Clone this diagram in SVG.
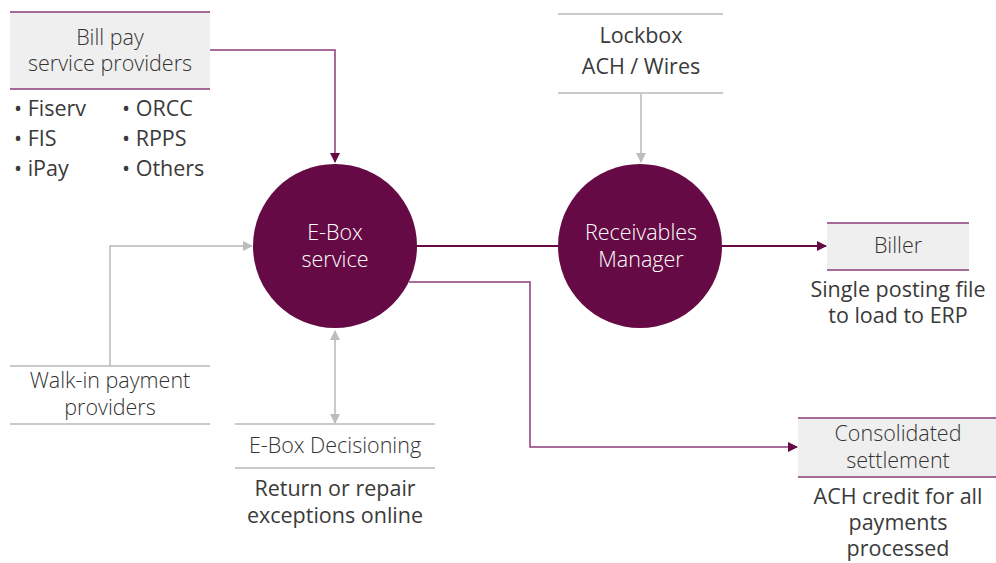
<svg xmlns="http://www.w3.org/2000/svg" width="996" height="563" viewBox="0 0 996 563">
<style>
  text { font-family: "Open Sans", "Liberation Sans", sans-serif; fill: #3a3a3a; text-anchor: middle; }
  .lt { font-weight: 300; font-size: 21.5px; fill: #333333; }
  .md { font-weight: 500; font-size: 21.5px; }
  .wt { font-weight: 300; font-size: 21.5px; fill: #ffffff; }
  .bl { text-anchor: start; }
  .box { fill: #efefef; }
  .pl { stroke: #8a3c78; stroke-width: 1.5; fill: none; }
  .gl { stroke: #b8b8b8; stroke-width: 1.5; fill: none; }
  .circ { fill: #650a45; }
</style>
<defs>
  <marker id="ap" markerWidth="10" markerHeight="10" refX="9" refY="5" orient="auto" markerUnits="userSpaceOnUse">
    <path d="M0,0 L10,5 L0,10 Z" fill="#650a45"/>
  </marker>
  <marker id="ag" markerWidth="10" markerHeight="10" refX="9" refY="5" orient="auto-start-reverse" markerUnits="userSpaceOnUse">
    <path d="M0,0 L10,5 L0,10 Z" fill="#bdbdbd"/>
  </marker>
</defs>

<g id="connectors">
  <path class="pl" d="M210,50 H335 V162" marker-end="url(#ap)"/>
  <path class="gl" d="M641,94 V162" marker-end="url(#ag)"/>
  <path class="gl" d="M110,366 V246 H252" marker-end="url(#ag)"/>
  <path class="gl" d="M335,331 V423" marker-start="url(#ag)" marker-end="url(#ag)"/>
  <path d="M417,246 H559" stroke="#650a45" stroke-width="2" fill="none"/>
  <path d="M722,246 H826" stroke="#650a45" stroke-width="2" fill="none" marker-end="url(#ap)"/>
  <path class="pl" d="M409,282 H530 V447 H797" marker-end="url(#ap)"/>
</g>

<g id="billpay">
  <rect class="box" x="10" y="12" width="200" height="77"/>
  <line class="pl" x1="10" y1="12" x2="210" y2="12"/>
  <line class="pl" x1="10" y1="89" x2="210" y2="89"/>
  <text class="lt" x="110" y="45">Bill pay</text>
  <text class="lt" x="110" y="71">service providers</text>
  <text class="md bl" x="14" y="116">• Fiserv</text>
  <text class="md bl" x="14" y="146">• FIS</text>
  <text class="md bl" x="14" y="176">• iPay</text>
  <text class="md bl" x="122" y="116">• ORCC</text>
  <text class="md bl" x="122" y="146">• RPPS</text>
  <text class="md bl" x="122" y="176">• Others</text>
</g>

<g id="lockbox">
  <line class="gl" x1="558" y1="14" x2="723" y2="14"/>
  <line class="gl" x1="558" y1="93" x2="723" y2="93"/>
  <text class="md" x="641" y="43">Lockbox</text>
  <text class="md" x="641" y="74">ACH / Wires</text>
</g>

<g id="ebox">
  <circle class="circ" cx="335" cy="246" r="82"/>
  <text class="wt" x="335" y="240">E-Box</text>
  <text class="wt" x="335" y="267">service</text>
</g>

<g id="receivables">
  <circle class="circ" cx="640" cy="246" r="82"/>
  <text class="wt" x="641" y="240">Receivables</text>
  <text class="wt" x="641" y="267">Manager</text>
</g>

<g id="biller">
  <rect class="box" x="827" y="223" width="142" height="47"/>
  <line class="pl" x1="827" y1="223" x2="969" y2="223"/>
  <line class="pl" x1="827" y1="270" x2="969" y2="270"/>
  <text class="lt" x="898" y="253">Biller</text>
  <text class="md" x="898" y="297">Single posting file</text>
  <text class="md" x="898" y="323">to load to ERP</text>
</g>

<g id="walkin">
  <line class="gl" x1="10" y1="366" x2="210" y2="366"/>
  <line class="gl" x1="10" y1="424" x2="210" y2="424"/>
  <text class="lt" x="110" y="388">Walk-in payment</text>
  <text class="lt" x="110" y="415">providers</text>
</g>

<g id="decisioning">
  <line class="gl" x1="235" y1="424" x2="435" y2="424"/>
  <line class="gl" x1="235" y1="468" x2="435" y2="468"/>
  <text class="lt" x="335" y="453">E-Box Decisioning</text>
  <text class="md" x="335" y="496">Return or repair</text>
  <text class="md" x="335" y="523">exceptions online</text>
</g>

<g id="settlement">
  <rect class="box" x="798" y="418" width="198" height="59"/>
  <line class="pl" x1="798" y1="418" x2="996" y2="418"/>
  <line class="pl" x1="798" y1="477" x2="996" y2="477"/>
  <text class="lt" x="898" y="441">Consolidated</text>
  <text class="lt" x="898" y="468">settlement</text>
  <text class="md" x="898" y="504">ACH credit for all</text>
  <text class="md" x="898" y="530">payments</text>
  <text class="md" x="898" y="556">processed</text>
</g>
</svg>
